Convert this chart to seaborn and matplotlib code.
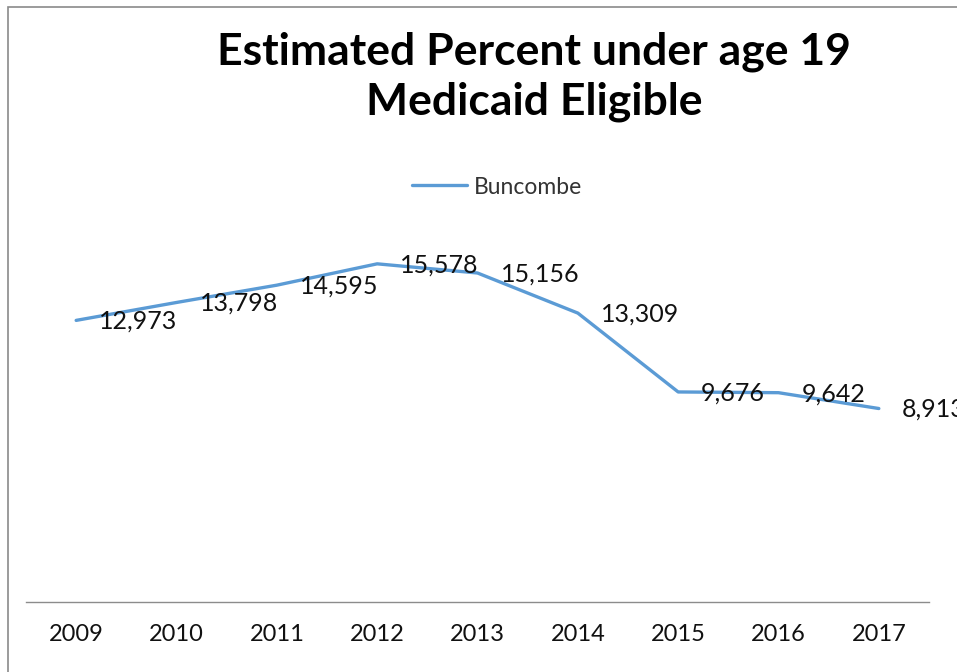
import matplotlib
matplotlib.use("Agg")
import matplotlib.pyplot as plt
import matplotlib.patches as mpatches
import seaborn as sns
import pandas as pd

years = ["2009", "2010", "2011", "2012", "2013", "2014", "2015", "2016", "2017"]
values = [12973, 13798, 14595, 15578, 15156, 13309, 9676, 9642, 8913]
series_name = "Buncombe"
title = "Estimated Percent under age 19\nMedicaid Eligible"

df = pd.DataFrame({"Year": years, "Value": values, "County": series_name})

sns.set_style("white")
plt.rcParams["font.family"] = ["Lato", "DejaVu Sans"]

W, H = 957, 672
fig = plt.figure(figsize=(W / 100, H / 100), dpi=100)
ax = fig.add_axes([26 / W, 1 - 602 / H, (929 - 26) / W, (602 - 208) / H])

sns.lineplot(data=df, x="Year", y="Value", hue="County", palette=["#5B9BD5"],
             linewidth=2.4, ax=ax, sort=False, legend=True)

ax.set_ylim(0, 18150)
ax.set_xlim(-0.5, len(years) - 0.5)
ax.set_xlabel("")
ax.set_ylabel("")
ax.set_yticks([])
ax.tick_params(axis="x", length=0, labelsize=17, colors="#111111", pad=16)
for s in ["top", "right", "left"]:
    ax.spines[s].set_visible(False)
ax.spines["bottom"].set_color("#8c8c8c")
ax.spines["bottom"].set_linewidth(1.0)

for i, v in enumerate(values):
    ax.annotate(f"{v:,}", xy=(i, v), xytext=(23, -1), textcoords="offset pixels",
                ha="left", va="center", fontsize=18, color="#111111",
                annotation_clip=False)

leg = ax.legend(loc="center", bbox_to_anchor=(497 / W, 1 - 187 / H),
                bbox_transform=fig.transFigure, frameon=False, fontsize=16.5,
                handlelength=2.4, handletextpad=0.3)
for t in leg.get_texts():
    t.set_color("#333333")

fig.text(534 / W, 1 - 77 / H, title, ha="center", va="center", fontsize=32,
         fontweight="bold", color="black", linespacing=1.3)

border = mpatches.Rectangle((8 / W, -0.2), 2.0, 1.2 - 7 / H, transform=fig.transFigure,
                            fill=False, edgecolor="#8a8a8a", linewidth=1.2, clip_on=False)
fig.patches.append(border)

fig.savefig("out.png", dpi=100)
